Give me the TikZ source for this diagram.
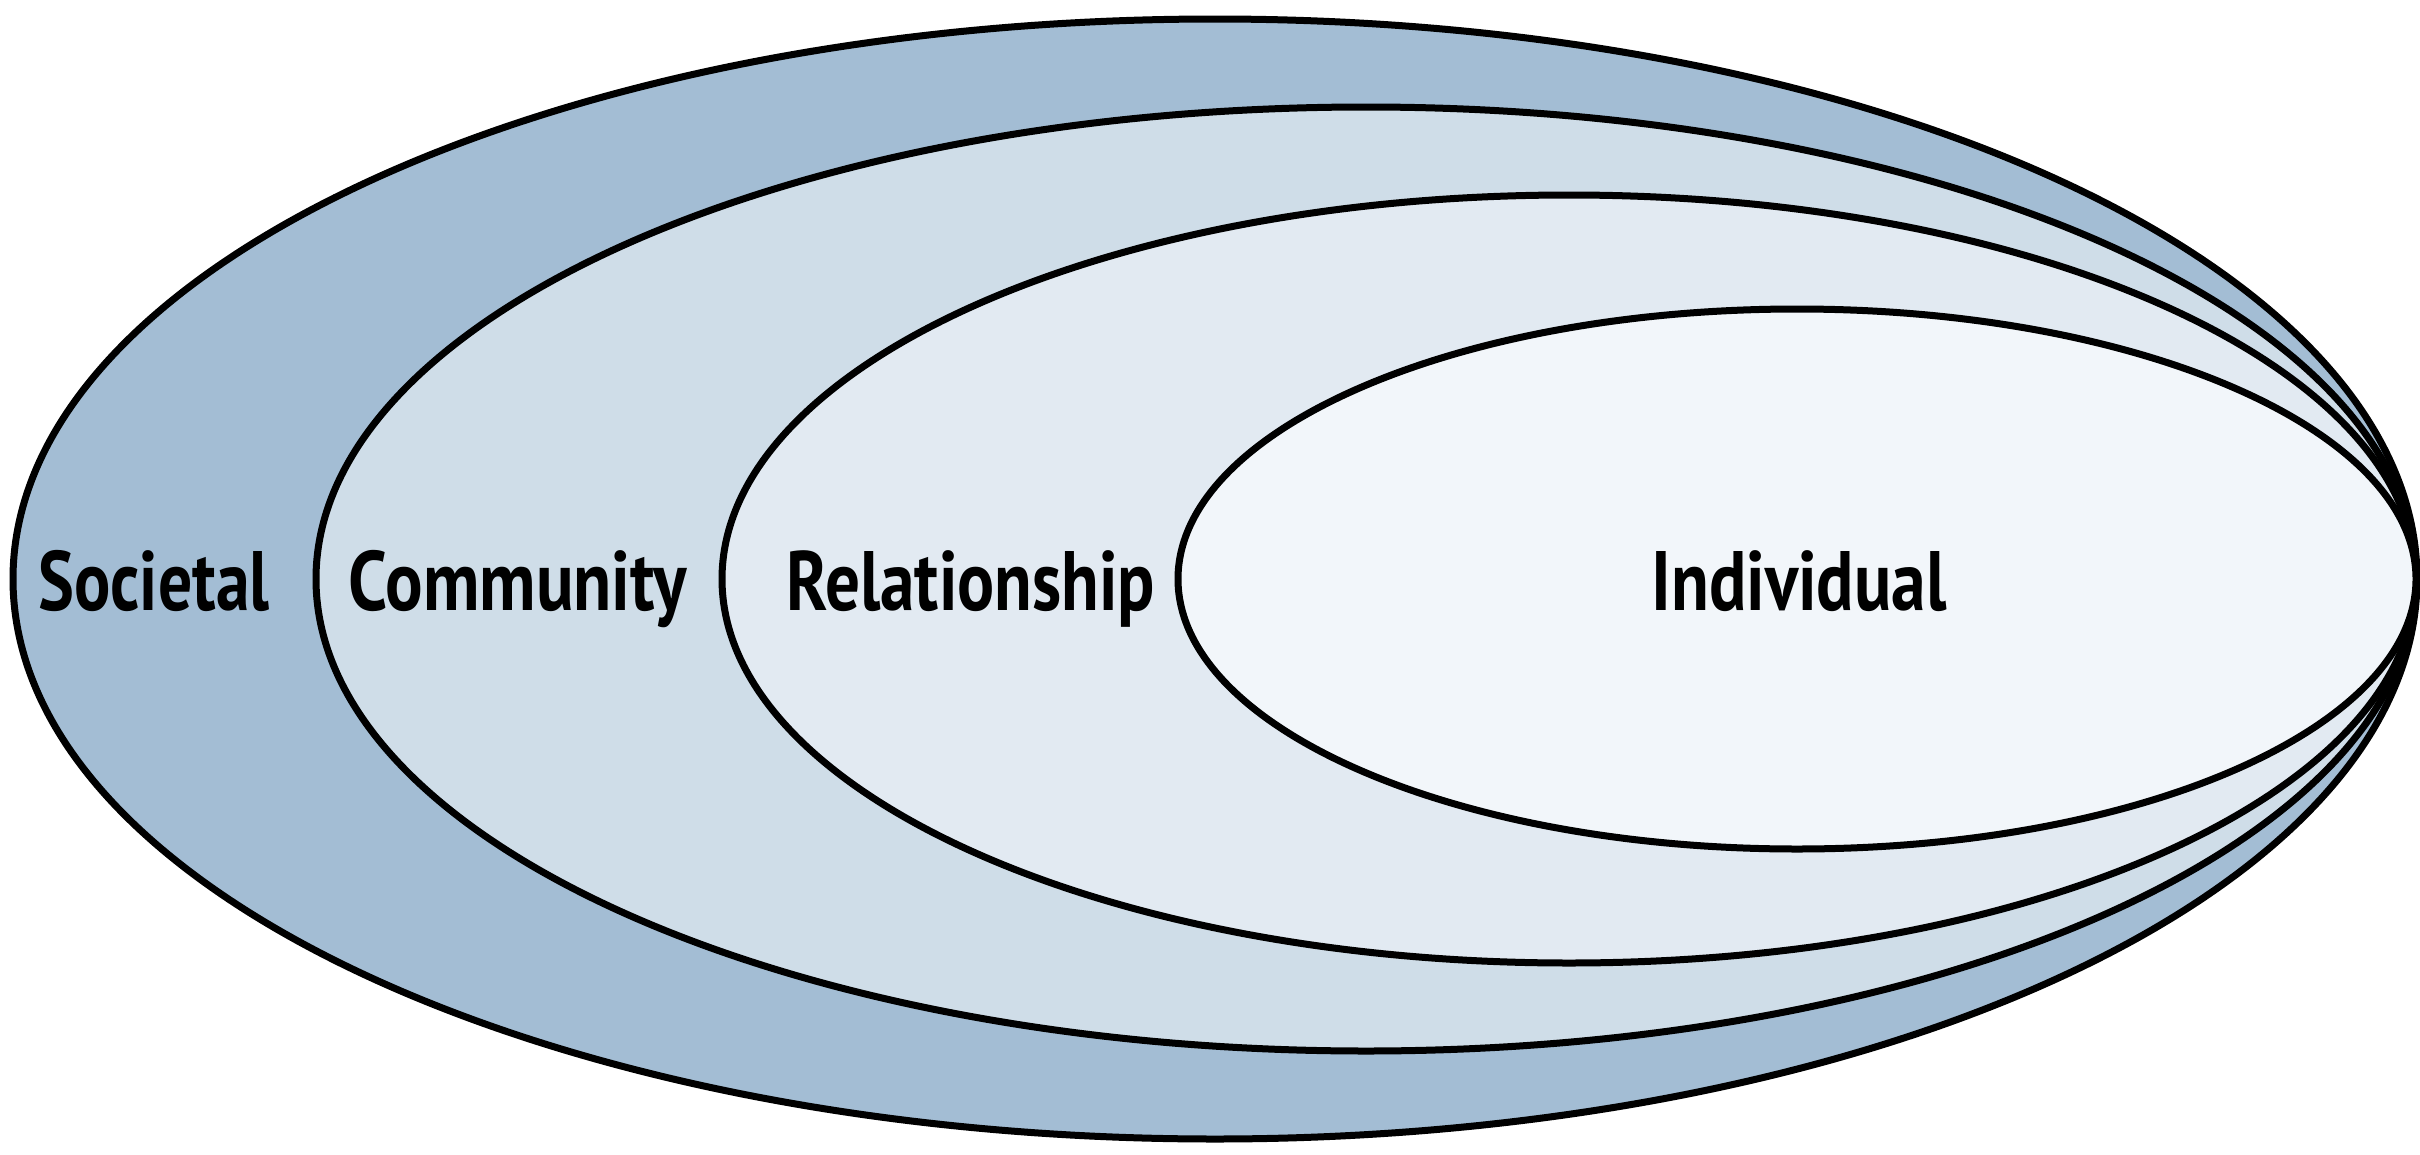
\documentclass[tikz,border=0pt]{standalone}
\usepackage{fontspec}
\setmainfont{PT Sans}
\usepackage{graphicx}
\definecolor{cSoc}{HTML}{A3BDD4}
\definecolor{cCom}{HTML}{CFDDE8}
\definecolor{cRel}{HTML}{E2EAF2}
\definecolor{cInd}{HTML}{F2F6FA}
\newcommand\lbl[2]{\resizebox{#1}{59pt}{\smash{\bfseries #2}\vphantom{\bfseries I}}}
\tikzset{
  ring/.style={draw=black, line width=7pt},
  lab/.style={anchor=base, inner sep=0pt, text=black}
}
\begin{document}
\begin{tikzpicture}[x=1pt,y=-1pt]
\useasboundingbox (0,0) rectangle (2420,1154);
\fill[white] (0,0) rectangle (2420,1154);
\draw[ring, fill=cSoc] (1215,579) ellipse [x radius=1202pt, y radius=560pt];
\draw[ring, fill=cCom] (1366,579) ellipse [x radius=1050pt, y radius=472pt];
\draw[ring, fill=cRel] (1569,579) ellipse [x radius=847pt, y radius=384pt];
\draw[ring, fill=cInd] (1797,579) ellipse [x radius=619pt, y radius=270pt];
\node[lab] (soc) at (154,610) {\lbl{231pt}{Societal}};
\node[lab] (com) at (518,610) {\lbl{338pt}{Community}};
\node[lab] (rel) at (971,610) {\lbl{368pt}{Relationship}};
\node[lab] (ind) at (1799,610) {\lbl{295pt}{Individual}};
\end{tikzpicture}
\end{document}
